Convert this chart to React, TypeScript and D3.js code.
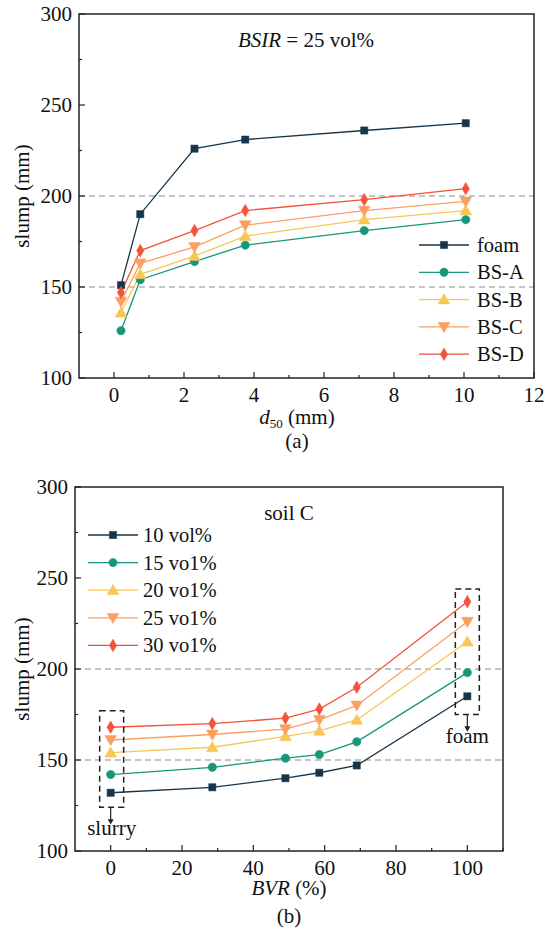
import React from "react";
import * as d3 from "d3";

// ---- Data: panel (a) ----
const d50Values = [0.2, 0.75, 2.3, 3.75, 7.15, 10.05];
const foamA = [151, 190, 226, 231, 236, 240];
const bsA = [126, 154, 164, 173, 181, 187];
const bsB = [136, 157, 167, 178, 187, 192];
const bsC = [142, 163, 172, 184, 192, 197];
const bsD = [147, 170, 181, 192, 198, 204];
const seriesNamesA = ["foam", "BS-A", "BS-B", "BS-C", "BS-D"];
const xTicksA = [0, 2, 4, 6, 8, 10, 12];
const yTicks = [100, 150, 200, 250, 300];

// ---- Data: panel (b) ----
const bvrValues = [0, 28.5, 49, 58.5, 69, 100];
const vol10 = [132, 135, 140, 143, 147, 185];
const vol15 = [142, 146, 151, 153, 160, 198];
const vol20 = [154, 157, 163, 166, 172, 215];
const vol25 = [161, 164, 167, 172, 180, 226];
const vol30 = [168, 170, 173, 178, 190, 237];
const seriesNamesB = ["10 vol%", "15 vo1%", "20 vo1%", "25 vo1%", "30 vo1%"];
const xTicksB = [0, 20, 40, 60, 80, 100];

const colors = ["#17354a", "#17967c", "#f8c655", "#f9a060", "#f4523a"];
const shapes = ["square", "circle", "triangle", "triangleDown", "diamond"];

const FONT = "Liberation Serif";
const FS = 21;

function symbolPath(shape: string): string {
  const map: Record<string, any> = {
    square: d3.symbolSquare,
    circle: d3.symbolCircle,
    triangle: d3.symbolTriangle,
    triangleDown: d3.symbolTriangle,
    diamond: d3.symbolDiamond,
  };
  const size: Record<string, number> = {
    square: 52,
    circle: 55,
    triangle: 60,
    triangleDown: 60,
    diamond: 46,
  };
  return d3.symbol(map[shape], size[shape])() as string;
}

function Marker({ shape, x, y, color }: { shape: string; x: number; y: number; color: string }) {
  const rot = shape === "triangleDown" ? 180 : 0;
  const dy = shape === "triangle" ? 1 : shape === "triangleDown" ? -1 : 0;
  return (
    <path
      d={symbolPath(shape)}
      transform={`translate(${x},${y + dy}) rotate(${rot})`}
      fill={color}
      stroke={color}
      strokeWidth={0.5}
    />
  );
}

interface PanelProps {
  left: number;
  right: number;
  top: number;
  bottom: number;
  xDomain: [number, number];
  xTicks: number[];
  xMinor: number[];
  xs: number[];
  series: number[][];
  names: string[];
  legend: { x: number; y: number; step: number; textOffset: number };
  children?: (x: d3.ScaleLinear<number, number>, y: d3.ScaleLinear<number, number>) => React.ReactNode;
}

function Panel(p: PanelProps) {
  const x = d3.scaleLinear().domain(p.xDomain).range([p.left, p.right]);
  const y = d3.scaleLinear().domain([100, 300]).range([p.bottom, p.top]);
  const yMinor = [125, 175, 225, 275];
  const line = d3
    .line<[number, number]>()
    .x((d) => x(d[0]))
    .y((d) => y(d[1]));
  return (
    <g>
      {[150, 200].map((v) => (
        <line
          key={"g" + v}
          x1={p.left}
          x2={p.right}
          y1={y(v)}
          y2={y(v)}
          stroke="#8c8c8c"
          strokeWidth={1.1}
          strokeDasharray="6,4"
        />
      ))}
      {p.series.map((s, i) => (
        <path
          key={"l" + i}
          d={line(p.xs.map((xv, j) => [xv, s[j]]) as [number, number][]) as string}
          fill="none"
          stroke={colors[i]}
          strokeWidth={1.3}
        />
      ))}
      {p.series.map((s, i) =>
        s.map((v, j) => <Marker key={`m${i}-${j}`} shape={shapes[i]} x={x(p.xs[j])} y={y(v)} color={colors[i]} />)
      )}
      {/* legend */}
      {p.names.map((n, i) => {
        const ly = p.legend.y + i * p.legend.step;
        return (
          <g key={"lg" + i}>
            <line x1={p.legend.x} x2={p.legend.x + 50} y1={ly} y2={ly} stroke={colors[i]} strokeWidth={1.3} />
            <Marker shape={shapes[i]} x={p.legend.x + 25} y={ly} color={colors[i]} />
            <text x={p.legend.x + p.legend.textOffset} y={ly + 7} fontFamily={FONT} fontSize={20.5} fill="#111">
              {n}
            </text>
          </g>
        );
      })}
      {/* frame */}
      <rect
        x={p.left}
        y={p.top}
        width={p.right - p.left}
        height={p.bottom - p.top}
        fill="none"
        stroke="#222"
        strokeWidth={1.5}
      />
      {/* y ticks */}
      {yTicks.map((v) => (
        <g key={"yt" + v}>
          <line x1={p.left} x2={p.left + 6} y1={y(v)} y2={y(v)} stroke="#222" strokeWidth={1.2} />
          <text x={p.left - 7} y={y(v) + 7} textAnchor="end" fontFamily={FONT} fontSize={FS} fill="#111">
            {v}
          </text>
        </g>
      ))}
      {yMinor.map((v) => (
        <line key={"ym" + v} x1={p.left} x2={p.left + 3} y1={y(v)} y2={y(v)} stroke="#222" strokeWidth={1.2} />
      ))}
      {/* x ticks */}
      {p.xTicks.map((v) => (
        <g key={"xt" + v}>
          <line x1={x(v)} x2={x(v)} y1={p.bottom} y2={p.bottom - 6} stroke="#222" strokeWidth={1.2} />
          <text x={x(v)} y={p.bottom + 24} textAnchor="middle" fontFamily={FONT} fontSize={FS} fill="#111">
            {v}
          </text>
        </g>
      ))}
      {p.xMinor.map((v) => (
        <line key={"xm" + v} x1={x(v)} x2={x(v)} y1={p.bottom} y2={p.bottom - 3} stroke="#222" strokeWidth={1.2} />
      ))}
      <text
        transform={`translate(29,${(p.top + p.bottom) / 2}) rotate(-90)`}
        textAnchor="middle"
        fontFamily={FONT}
        fontSize={FS}
        fill="#111"
      >
        slump (mm)
      </text>
      {p.children ? p.children(x, y) : null}
    </g>
  );
}

export default function App() {
  return (
    <svg
      width={555}
      height={930}
      viewBox="0 0 555 930"
      style={{ position: "absolute", left: 0, top: 0, background: "#fff", fontFamily: FONT }}
    >
      <rect x={0} y={0} width={555} height={930} fill="#fff" />
      <Panel
        left={79}
        right={534}
        top={14}
        bottom={378}
        xDomain={[-1, 12]}
        xTicks={xTicksA}
        xMinor={[1, 3, 5, 7, 9, 11]}
        xs={d50Values}
        series={[foamA, bsA, bsB, bsC, bsD]}
        names={seriesNamesA}
        legend={{ x: 419, y: 245, step: 27.3, textOffset: 58 }}
      >
        {() => (
          <g>
            <text x={306} y={47} textAnchor="middle" fontFamily={FONT} fontSize={FS} fill="#111">
              <tspan fontStyle="italic">BSIR</tspan> = 25 vol%
            </text>
          </g>
        )}
      </Panel>
      <text x={297} y={424} textAnchor="middle" fontFamily={FONT} fontSize={FS} fill="#111">
        <tspan fontStyle="italic">d</tspan>
        <tspan fontSize={13} dy={4}>
          50
        </tspan>
        <tspan dy={-4}> (mm)</tspan>
      </text>
      <text x={297} y={448} textAnchor="middle" fontFamily={FONT} fontSize={FS} fill="#111">
        (a)
      </text>

      <Panel
        left={75}
        right={503}
        top={487}
        bottom={851}
        xDomain={[-10, 110]}
        xTicks={xTicksB}
        xMinor={[10, 30, 50, 70, 90, 110]}
        xs={bvrValues}
        series={[vol10, vol15, vol20, vol25, vol30]}
        names={seriesNamesB}
        legend={{ x: 88, y: 535, step: 27.6, textOffset: 55 }}
      >
        {(x, y) => (
          <g>
            <text x={289} y={520} textAnchor="middle" fontFamily={FONT} fontSize={FS} fill="#111">
              soil C
            </text>
            {/* slurry box */}
            <rect
              x={x(0) - 11}
              y={y(177)}
              width={24}
              height={y(124) - y(177)}
              fill="none"
              stroke="#222"
              strokeWidth={1.5}
              strokeDasharray="6,4"
            />
            <line x1={x(0)} x2={x(0)} y1={y(124)} y2={y(117)} stroke="#222" strokeWidth={1.2} />
            <path
              d={`M${x(0) - 3},${y(117.5)} L${x(0) + 3},${y(117.5)} L${x(0)},${y(114.5)} Z`}
              fill="#222"
            />
            <text x={x(0) + 1} y={y(109)} textAnchor="middle" fontFamily={FONT} fontSize={FS} fill="#111">
              slurry
            </text>
            {/* foam box */}
            <rect
              x={x(100) - 12}
              y={y(244)}
              width={24}
              height={y(175) - y(244)}
              fill="none"
              stroke="#222"
              strokeWidth={1.5}
              strokeDasharray="6,4"
            />
            <line x1={x(100)} x2={x(100)} y1={y(175)} y2={y(168)} stroke="#222" strokeWidth={1.2} />
            <path
              d={`M${x(100) - 3},${y(168.5)} L${x(100) + 3},${y(168.5)} L${x(100)},${y(165.5)} Z`}
              fill="#222"
            />
            <text x={x(100)} y={y(159.5)} textAnchor="middle" fontFamily={FONT} fontSize={FS} fill="#111">
              foam
            </text>
          </g>
        )}
      </Panel>
      <text x={289} y={895} textAnchor="middle" fontFamily={FONT} fontSize={FS} fill="#111">
        <tspan fontStyle="italic">BVR</tspan> (%)
      </text>
      <text x={289} y={923} textAnchor="middle" fontFamily={FONT} fontSize={FS} fill="#111">
        (b)
      </text>
    </svg>
  );
}
